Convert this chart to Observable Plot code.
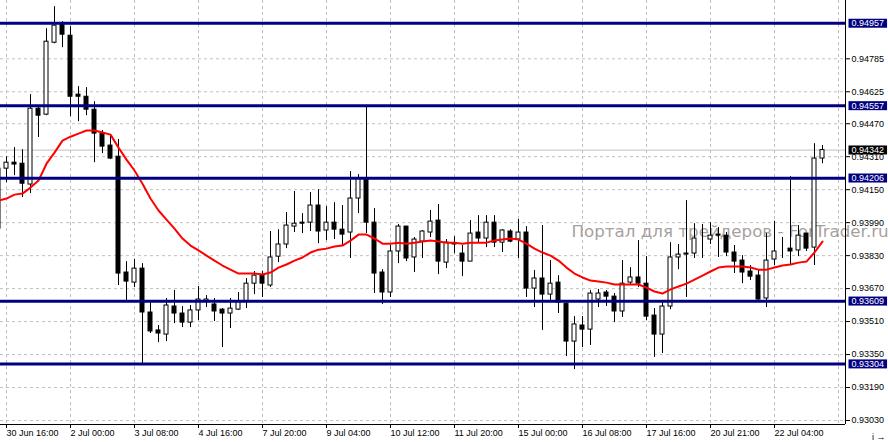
<!DOCTYPE html>
<html><head><meta charset="utf-8">
<script src="https://cdn.jsdelivr.net/npm/d3@7"></script>
<script src="https://cdn.jsdelivr.net/npm/@observablehq/plot@0.6"></script>
<style>
html,body{margin:0;padding:0;background:#fff;}
#chart{width:888px;height:442px;overflow:hidden;}
svg{display:block;}
</style></head><body><div id="chart"></div>
<script>
// H4 bars, first entry is the partly hidden bar left of the frame
const firstIndex = -1;
const openP = [0.94252,0.94252,0.94281,0.94276,0.94175,0.94543,0.94514,0.94863,0.94951,0.94897,
0.94611,0.94601,0.94538,0.94422,0.94364,0.94310,0.93748,0.93699,0.93767,0.93554,
0.93467,0.93447,0.93583,0.93549,0.93505,0.93564,0.93607,0.93593,0.93568,0.93549,
0.93568,0.93607,0.93694,0.93733,0.93685,0.93825,0.93884,0.93971,0.93990,0.93990,
0.94073,0.93952,0.93990,0.93956,0.93942,0.94107,0.94199,0.93990,0.93748,0.93651,
0.93850,0.93971,0.93821,0.93898,0.93942,0.94000,0.93796,0.93888,0.93840,0.93801,
0.93942,0.93913,0.93990,0.93893,0.93947,0.93908,0.93942,0.93670,0.93719,0.93641,
0.93699,0.93597,0.93413,0.93491,0.93471,0.93617,0.93651,0.93631,0.93559,0.93699,
0.93724,0.93694,0.93539,0.93447,0.93583,0.93821,0.93835,0.93840,0.93913,0.93908,
0.93932,0.93927,0.93845,0.93806,0.93753,0.93733,0.93622,0.93811,0.93859,0.93864,
0.93855,0.93937,0.93869,0.94301];
const highP = [0.94267,0.94310,0.94354,0.94344,0.94611,0.94553,0.94931,0.95038,0.94965,0.94941,
0.94650,0.94645,0.94577,0.94437,0.94412,0.94393,0.93801,0.93811,0.93791,0.93612,
0.93491,0.93622,0.93661,0.93583,0.93588,0.93680,0.93636,0.93622,0.93573,0.93622,
0.93651,0.93719,0.93753,0.93753,0.93947,0.93956,0.94039,0.94141,0.94034,0.94136,
0.94150,0.94068,0.94087,0.94073,0.94238,0.94223,0.94552,0.94058,0.93762,0.93879,
0.93981,0.93971,0.93918,0.93952,0.94049,0.94078,0.93908,0.93922,0.93879,0.94000,
0.94024,0.94024,0.94024,0.93956,0.93956,0.94005,0.93971,0.93758,0.93976,0.93806,
0.93733,0.93602,0.93534,0.93534,0.93661,0.93666,0.93661,0.93646,0.93806,0.93772,
0.93903,0.93825,0.93573,0.93612,0.93893,0.93884,0.94097,0.93985,0.93981,0.93990,
0.93966,0.93942,0.93879,0.93830,0.93782,0.93758,0.93937,0.93997,0.93918,0.94213,
0.93976,0.93937,0.94373,0.94364];
const lowP = [0.93942,0.94184,0.94218,0.94112,0.94131,0.94403,0.94509,0.94858,0.94839,0.94504,
0.94480,0.94509,0.94281,0.94325,0.94296,0.93685,0.93607,0.93675,0.93304,0.93452,
0.93408,0.93413,0.93500,0.93481,0.93481,0.93515,0.93578,0.93510,0.93384,0.93476,
0.93564,0.93573,0.93641,0.93627,0.93675,0.93796,0.93864,0.93942,0.93937,0.93947,
0.93888,0.93903,0.93908,0.93879,0.93816,0.94034,0.93937,0.93646,0.93593,0.93627,
0.93791,0.93801,0.93748,0.93816,0.93918,0.93738,0.93767,0.93840,0.93728,0.93801,
0.93893,0.93869,0.93869,0.93845,0.93893,0.93816,0.93627,0.93578,0.93467,0.93602,
0.93549,0.93340,0.93277,0.93384,0.93394,0.93578,0.93583,0.93505,0.93530,0.93685,
0.93675,0.93515,0.93336,0.93355,0.93568,0.93762,0.93627,0.93816,0.93816,0.93884,
0.93821,0.93825,0.93743,0.93694,0.93709,0.93607,0.93578,0.93782,0.93816,0.93782,
0.93825,0.93850,0.93782,0.94276];
const closeP = [0.93961,0.94281,0.94272,0.94179,0.94543,0.94509,0.94868,0.94946,0.94902,0.94601,
0.94601,0.94538,0.94422,0.94359,0.94301,0.93743,0.93704,0.93767,0.93554,0.93462,
0.93452,0.93588,0.93549,0.93505,0.93564,0.93617,0.93617,0.93559,0.93549,0.93573,
0.93607,0.93694,0.93733,0.93694,0.93821,0.93884,0.93976,0.93985,0.93985,0.94073,
0.93947,0.93990,0.93956,0.93932,0.94107,0.94204,0.93990,0.93743,0.93651,0.93850,
0.93971,0.93816,0.93908,0.93947,0.93995,0.93801,0.93893,0.93884,0.93801,0.93937,
0.93913,0.93990,0.93893,0.93952,0.93898,0.93942,0.93670,0.93719,0.93641,0.93694,
0.93602,0.93413,0.93496,0.93471,0.93646,0.93646,0.93631,0.93559,0.93694,0.93724,
0.93694,0.93534,0.93447,0.93583,0.93821,0.93835,0.93840,0.93913,0.93913,0.93927,
0.93927,0.93845,0.93801,0.93748,0.93728,0.93617,0.93806,0.93850,0.93859,0.93850,
0.93927,0.93864,0.94301,0.94342];
const maP = [0.94097,0.94107,0.94126,0.94131,0.94160,0.94194,0.94276,0.94330,0.94388,0.94407,
0.94422,0.94437,0.94437,0.94427,0.94417,0.94354,0.94296,0.94243,0.94179,0.94107,
0.94049,0.94005,0.93961,0.93913,0.93879,0.93855,0.93830,0.93806,0.93782,0.93762,
0.93743,0.93743,0.93743,0.93738,0.93748,0.93772,0.93787,0.93806,0.93821,0.93845,
0.93859,0.93864,0.93874,0.93879,0.93903,0.93932,0.93932,0.93913,0.93888,0.93888,
0.93893,0.93888,0.93893,0.93898,0.93903,0.93898,0.93893,0.93893,0.93888,0.93893,
0.93893,0.93893,0.93903,0.93908,0.93913,0.93908,0.93888,0.93864,0.93845,0.93830,
0.93806,0.93772,0.93743,0.93724,0.93709,0.93704,0.93699,0.93690,0.93690,0.93690,
0.93690,0.93675,0.93656,0.93646,0.93666,0.93680,0.93694,0.93714,0.93733,0.93753,
0.93772,0.93777,0.93777,0.93777,0.93772,0.93762,0.93762,0.93772,0.93782,0.93787,
0.93796,0.93801,0.93845,0.93898];

const levels = [0.94957, 0.94557, 0.94206, 0.93609, 0.93304];
const lastPrice = 0.94342;
const yTicks = [0.94785,0.94625,0.94470,0.94310,0.94150,0.93990,0.93830,0.93670,0.93510,0.93350,0.93190,0.93030];
const xTickLabels = ["30 Jun 16:00","2 Jul 00:00","3 Jul 08:00","4 Jul 16:00","7 Jul 20:00","9 Jul 04:00",
  "10 Jul 12:00","11 Jul 20:00","15 Jul 00:00","16 Jul 08:00","17 Jul 16:00","20 Jul 21:00","22 Jul 04:00"];
const barsPerLabel = 8;
const watermark = "Портал для трейдеров - ForTrader.ru";

const bars = openP.map((o, j) => ({
  i: j + firstIndex, open: o, high: highP[j], low: lowP[j], close: closeP[j], ma: maP[j]
}));
const xTicks = xTickLabels.map((_, j) => j * barsPerLabel);
const xGrid = d3.range(0, bars.length + barsPerLabel, barsPerLabel).filter(v => v <= bars.length + 1);
const xDomain = [-0.75, 104.875];
const yDomain = [0.930106, 0.950679];
const fmt = d3.format(".5f");
const boxes = [
  ...levels.map(v => ({v, bg: "#000080"})),
  {v: lastPrice, bg: "#000000"}
];

const chart = Plot.plot({
  width: 888, height: 442,
  marginTop: 0, marginRight: 43, marginBottom: 18, marginLeft: 0,
  style: {fontFamily: "'Liberation Sans', Arial, sans-serif", fontSize: "9px", background: "white", color: "black", overflow: "visible"},
  x: {domain: xDomain, axis: null},
  y: {domain: yDomain, axis: null},
  marks: [
    Plot.gridY(yTicks, {stroke: "#c0c0c0", strokeOpacity: 1, strokeDasharray: "3,3"}),
    Plot.gridX(xGrid, {stroke: "#c0c0c0", strokeOpacity: 1, strokeDasharray: "3,3"}),
    Plot.text([watermark], {frameAnchor: "top-left", dx: 571, dy: 231, textAnchor: "start", lineAnchor: "middle",
      fill: "#a89f9f", fontSize: 16.7, fontFamily: "'DejaVu Sans', sans-serif"}),
    Plot.ruleY([lastPrice], {stroke: "#c0c0c0"}),
    Plot.ruleX(bars, {x: "i", y1: "low", y2: "high", stroke: "black", clip: true}),
    Plot.rect(bars, {x1: d => d.i - 0.25, x2: d => d.i + 0.25, y1: "open", y2: "close",
      fill: d => d.close >= d.open ? "white" : "black", stroke: "black", clip: true}),
    Plot.line(bars, {x: "i", y: "ma", stroke: "#ff0000", strokeWidth: 2, clip: true}),
    Plot.ruleY(levels, {stroke: "#000080", strokeWidth: 3}),
    Plot.ruleX([xDomain[1]], {stroke: "black"}),
    Plot.ruleY([yDomain[0]], {stroke: "black"}),
    Plot.axisY(yTicks, {anchor: "right", tickFormat: fmt, tickSize: 4, tickPadding: 2, fill: "black"}),
    Plot.axisX(xTicks, {anchor: "bottom", tickFormat: v => xTickLabels[v / barsPerLabel], textAnchor: "start",
      tickSize: 4, tickPadding: 1, fill: "black"}),
    Plot.text(boxes, {y: "v", text: d => fmt(d.v), frameAnchor: "right", dx: 6, textAnchor: "start",
      fill: "#fffffe", stroke: "bg", strokeWidth: 0, strokeOpacity: 0})
  ]
});
document.getElementById("chart").append(chart);

// paint a filled box behind every price tag, using the colour carried by its stroke channel
d3.select(chart).selectAll("text").each(function() {
  const g = this.parentNode;
  const fill = this.getAttribute("fill") || (g && g.getAttribute && g.getAttribute("fill"));
  if (fill !== "#fffffe") return;
  const bg = this.getAttribute("stroke");
  const bb = this.getBBox();
  const r = document.createElementNS("http://www.w3.org/2000/svg", "rect");
  r.setAttribute("x", bb.x - 3);
  r.setAttribute("y", bb.y + 0.5);
  r.setAttribute("width", bb.width + 6);
  r.setAttribute("height", bb.height - 1);
  r.setAttribute("fill", bg);
  r.setAttribute("stroke", "none");
  const t = this.getAttribute("transform");
  if (t) r.setAttribute("transform", t);
  g.insertBefore(r, this);
});
</script>
</body></html>
